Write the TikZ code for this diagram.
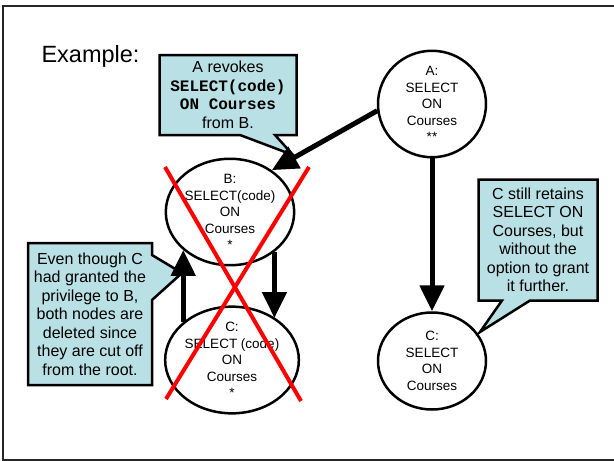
\documentclass[tikz,border=0pt]{standalone}
\usepackage{fontspec}
\setmainfont{Liberation Sans}
\setmonofont{Liberation Mono}
\usetikzlibrary{shapes.geometric, arrows.meta, calc, backgrounds}

\definecolor{notefill}{RGB}{185,224,228}

\begin{document}
\begin{tikzpicture}[x=1pt, y=-1pt,
  priv/.style={ellipse, draw, line width=2.5pt, minimum width=115pt, minimum height=98pt,
    inner sep=0pt, align=center, font=\fontsize{13.5}{16.5}\selectfont},
  note/.style={rectangle, inner sep=0pt, outer sep=0pt, align=center,
    font=\fontsize{16}{18.5}\selectfont},
  notebox/.style={fill=notefill, draw, line width=2.5pt},
  grant/.style={-{Triangle[width=24pt,length=26pt]}, line width=5pt},
  cross/.style={red, line width=4pt}]
\useasboundingbox (0,0) rectangle (614,461);

%the frame
\draw [line width=1.5pt, black!85] (3,6) rectangle (618,460);
\node [anchor=base west, font=\fontsize{23.5}{27}\selectfont] (title) at (38,62) {Example:};

%the privileges
\node [priv, minimum width=108pt, minimum height=94pt] (A) at (432,104) {A:\\SELECT\\ON\\Courses\\**};
\node [priv] (B) at (230,212) {B:\\SELECT(code)\\ON\\Courses\\*};
\node [priv] (Cl) at (232,360) {C:\\SELECT (code)\\ON\\Courses\\*};
\node [priv, minimum width=108pt, minimum height=97pt] (Cr) at (432,361) {C:\\SELECT\\ON\\Courses};

%the notes
\node [note, minimum width=137pt, minimum height=80pt] (revoke) at (228,95)
  {A revokes\\\texttt{\bfseries SELECT(code)}\\\texttt{\bfseries ON Courses}\\from B.};
\node [note, minimum width=124pt, minimum height=142pt] (cutoff) at (90,314)
  {Even though C\\had granted the\\privilege to B,\\both nodes are\\deleted since\\they are cut off\\from the root.};
\node [note, minimum width=119pt, minimum height=121pt] (retain) at (538,240)
  {C still retains\\SELECT ON\\Courses, but\\without the\\option to grant\\it further.};
\coordinate (revoke tip) at (293,155);
\coordinate (cutoff tip) at (182,273);
\coordinate (retain tip) at (480,332);

\begin{scope}[on background layer]
\filldraw [notebox] (revoke.north west) -- (revoke.north east) -- (revoke.south east)
  -- ($(revoke.south)+(47,0)$) -- (revoke tip) -- ($(revoke.south)+(12,0)$)
  -- (revoke.south west) -- cycle;
\filldraw [notebox] (cutoff.north west) -- (cutoff.north east) -- ($(cutoff.east)+(0,-59)$)
  -- (cutoff tip) -- ($(cutoff.east)+(0,-14)$) -- (cutoff.south east)
  -- (cutoff.south west) -- cycle;
\filldraw [notebox] (retain.north west) -- (retain.north east) -- (retain.south east)
  -- ($(retain.south)+(-8,0)$) -- (retain tip) -- ($(retain.south)+(-36,0)$)
  -- (retain.south west) -- cycle;
\end{scope}

%the grants
\draw [grant] (A.187) -- (B.45);
\draw [grant] (A) -- (Cr);
\draw [grant] (B.-42) -- (B.-42 |- Cl.44);
\draw [grant] (Cl.142) -- (Cl.142 |- B.-141);

%the cross
\draw [cross] (165,167) -- (301,401);
\draw [cross] (309,167) -- (166,399);
\end{tikzpicture}
\end{document}
